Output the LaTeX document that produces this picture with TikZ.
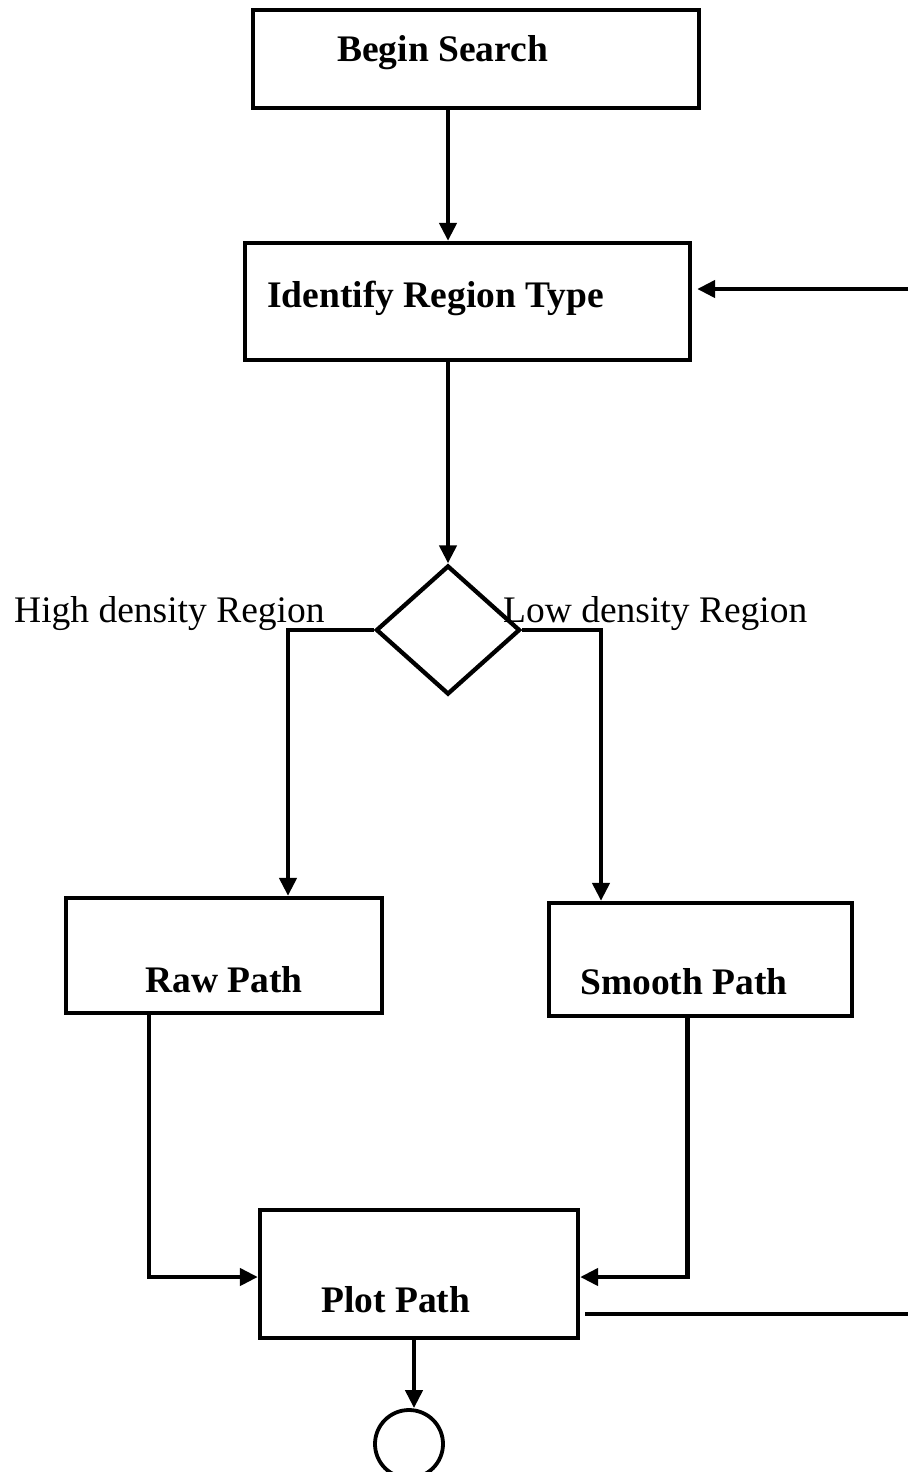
\documentclass[tikz,border=0pt]{standalone}
\usepackage{fontspec}
\setmainfont{Liberation Serif}
\usetikzlibrary{arrows.meta,shapes.geometric}
\begin{document}
\begin{tikzpicture}[x=1pt,y=-1pt,
  box/.style={draw,line width=4.3pt,rectangle,inner sep=0pt},
  title/.style={anchor=base west,inner sep=0pt,font=\fontsize{37.5}{44}\selectfont\bfseries},
  lbl/.style={anchor=base west,inner sep=0pt,font=\fontsize{37.5}{44}\selectfont},
  conn/.style={line width=4.3pt},
  arr/.style={conn,-{Triangle[length=18pt,width=17pt]}}]
\useasboundingbox (0,0) rectangle (908,1472);

% process boxes
\node[box,minimum width=446pt,minimum height=98pt]  (begin)  at (476,59) {};
\node[box,minimum width=445pt,minimum height=117pt] (ident)  at (467.5,301.5) {};
\node[box,minimum width=316pt,minimum height=115pt] (raw)    at (224,955.5) {};
\node[box,minimum width=303pt,minimum height=113pt] (smooth) at (700.5,959.5) {};
\node[box,minimum width=318pt,minimum height=128pt] (plot)   at (419,1274) {};

% decision and terminator
\node[draw,line width=4.3pt,diamond,inner sep=0pt,minimum width=144pt,minimum height=129pt] (dia) at (448,630) {};
\node[draw,line width=3.8pt,circle,inner sep=0pt,minimum size=68pt] (end) at (409,1444) {};

% box captions
\node[title] (tbegin)  at (337,62)   {Begin Search};
\node[title] (tident)  at (267,307)  {Identify Region Type};
\node[title] (traw)    at (145,992)  {Raw Path};
\node[title] (tsmooth) at (580,994)  {Smooth Path};
\node[title] (tplot)   at (321,1312) {Plot Path};

% branch labels
\node[lbl] (lhigh) at (14,622)  {High density Region};
\node[lbl] (llow)  at (503,622) {Low density Region};

% loose ends at the right margin
\coordinate (loopin)  at (908,289);
\coordinate (loopout) at (908,1314);

% connectors
\draw[arr] (begin.south -| dia.north) -- (ident.north -| dia.north);
\draw[arr] (loopin) -- ([xshift=5pt]ident.east |- loopin);
\draw[arr] (ident.south -| dia.north) -- (dia.north);
\draw[arr] (dia.west) -| ([xshift=64pt]raw.north);
\draw[arr] (dia.east) -| ([xshift=-99.5pt]smooth.north);
\draw[arr] ([xshift=-75pt]raw.south) |- ([yshift=-3pt]plot.west);
\draw[arr] ([xshift=-13pt]smooth.south) |- ([yshift=-3pt]plot.east);
\draw[line width=3.3pt] ([xshift=5pt,yshift=-40pt]plot.east) -- (loopout);
\draw[arr] ([xshift=-5pt]plot.south) -- ([xshift=-5pt]plot.south |- end.north);
\end{tikzpicture}
\end{document}
